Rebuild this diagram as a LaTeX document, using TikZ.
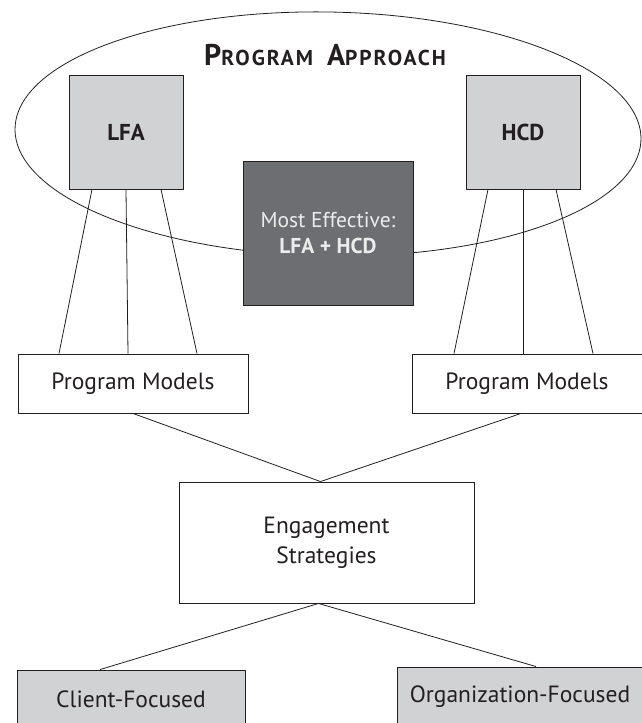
\documentclass[tikz,border=0pt]{standalone}
\usepackage{fontspec}
\setmainfont{PT Sans}
\usetikzlibrary{calc,positioning}

\definecolor{inkgray}{HTML}{231F20}
\definecolor{boxgray}{HTML}{D1D2D4}
\definecolor{effgray}{HTML}{6D6E71}
\definecolor{efftext}{HTML}{ECECED}
\newcommand\bodyfont{\fontsize{23.5}{30}\selectfont}
\newcommand\fakesc[2]{{\fontsize{30}{30}\selectfont #1}{\fontsize{21.5}{30}\selectfont\addfontfeature{LetterSpace=9} #2}}

\tikzset{
  plainbox/.style={draw=inkgray,line width=0.9pt,fill=white,text=inkgray,
    align=center,inner sep=0pt,font=\bodyfont},
  graybox/.style={plainbox,fill=boxgray},
  link/.style={draw=inkgray,line width=0.8pt},
}

\begin{document}
\begin{tikzpicture}[x=1pt,y=-1pt]
  \useasboundingbox (0,0) rectangle (641,723);
  % program approach
  \draw [link,rotate around={-1:(328,134)}] (328,134) ellipse [x radius=313,y radius=122];
  \node [text=inkgray,font=\bfseries,anchor=base] (title) at (325,65) {\fakesc{P}{ROGRAM}\hspace{14pt}\fakesc{A}{PPROACH}};
  \node [graybox,minimum width=114pt,minimum height=114pt,font=\fontsize{23}{26}\selectfont\bfseries] (lfa) at (126,132) {LFA};
  \node [graybox,minimum width=114pt,minimum height=114pt,font=\fontsize{23}{26}\selectfont\bfseries] (hcd) at (523,132) {HCD};
  \node [plainbox,fill=effgray,text=efftext,minimum width=170pt,minimum height=144pt,
    font=\fontsize{21.5}{26}\selectfont] (best) at (328,233) {Most Effective:\\\textbf{LFA + HCD}};

  % models
  \node [plainbox,minimum width=230pt,minimum height=59pt] (pmleft) at (133,383.5) {Program Models};
  \node [plainbox,minimum width=230pt,minimum height=59pt] (pmright) at (527,383.5) {Program Models};
  \draw [link] ($(lfa.south)+(-34,0)$) -- ($(pmleft.north)+(-74,0)$);
  \draw [link] (lfa.south) -- ($(pmleft.north)+(-5,0)$);
  \draw [link] ($(lfa.south)+(35,0)$) -- ($(pmleft.north)+(64,0)$);
  \draw [link] ($(hcd.south)+(-35,0)$) -- ($(pmright.north)+(-73,0)$);
  \draw [link] (hcd.south) -- ($(pmright.north)+(-4,0)$);
  \draw [link] ($(hcd.south)+(33,0)$) -- ($(pmright.north)+(66,0)$);

  % strategies
  \node [plainbox,minimum width=295pt,minimum height=121pt] (engage) at (326.5,542.5) {Engagement\\Strategies};
  \coordinate (engtop) at ($(engage.north)+(-6,0)$);
  \draw [link] (pmleft.south) -- (engtop);
  \draw [link] ($(pmright.south)+(-6,0)$) -- (engtop);

  \node [graybox,minimum width=228pt,minimum height=58pt] (client) at (131,699) {Client-Focused};
  \node [graybox,minimum width=246pt,minimum height=60pt] (org) at (520,697) {Organization-Focused};
  \draw [link] ($(engage.south)+(-8,0)$) -- ($(client.north)+(-31,0)$);
  \draw [link] ($(engage.south)+(-8,0)$) -- ($(org.north)+(16,0)$);
\end{tikzpicture}
\end{document}
